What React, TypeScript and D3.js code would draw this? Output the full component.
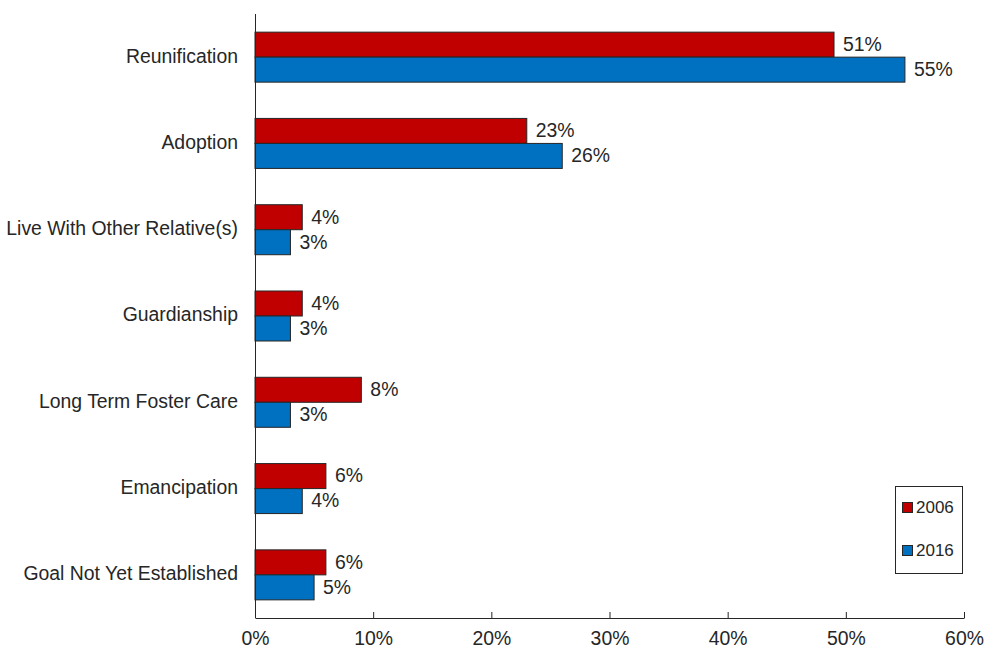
import React, { useEffect, useRef } from "react";
import * as d3 from "d3";

const categories = [
  "Reunification",
  "Adoption",
  "Live With Other Relative(s)",
  "Guardianship",
  "Long Term Foster Care",
  "Emancipation",
  "Goal Not Yet Established",
];
const series = ["2006", "2016"];
// bar lengths as drawn (percent)
const values2006 = [49, 23, 4, 4, 9, 6, 6];
const values2016 = [55, 26, 3, 3, 3, 4, 5];
// data labels as printed
const labels2006 = ["51%", "23%", "4%", "4%", "8%", "6%", "6%"];
const labels2016 = ["55%", "26%", "3%", "3%", "3%", "4%", "5%"];
const xTicks = [0, 10, 20, 30, 40, 50, 60];

const colors = ["#C00000", "#0070C0"];
const font = "Arial, 'Liberation Sans', sans-serif";
const textColor = "#262626";
const fs = 19.4;

export default function App() {
  const ref = useRef<SVGSVGElement>(null);

  useEffect(() => {
    const svg = d3.select(ref.current);
    svg.selectAll("*").remove();

    const left = 255;
    const right = 964;
    const top = 14;
    const bottom = 618;
    const barH = 25;

    const x = d3.scaleLinear().domain([0, 60]).range([left, right]);
    const y = d3.scaleBand().domain(categories).range([top, bottom]).padding(0);

    const rows = categories.map((c, i) => ({
      cat: c,
      vals: [values2006[i], values2016[i]],
      labs: [labels2006[i], labels2016[i]],
    }));

    // bars
    const g = svg.append("g");
    rows.forEach((r) => {
      const cy = (y(r.cat) as number) + y.bandwidth() / 2;
      r.vals.forEach((v, k) => {
        const by = cy - barH + k * barH;
        g.append("rect")
          .attr("x", x(0))
          .attr("y", by)
          .attr("width", x(v) - x(0))
          .attr("height", barH)
          .attr("fill", colors[k])
          .attr("stroke", "#262626")
          .attr("stroke-width", 1);
        g.append("text")
          .attr("x", x(v) + 9)
          .attr("y", by + barH / 2)
          .attr("dy", "0.33em")
          .attr("font-family", font)
          .attr("font-size", fs)
          .attr("fill", textColor)
          .text(r.labs[k]);
      });
    });

    // y axis
    const yAxis = svg
      .append("g")
      .attr("transform", `translate(${left},0)`)
      .call(d3.axisLeft(y).tickSize(0).tickPadding(17));
    yAxis.select(".domain").attr("stroke", "#262626").attr("d", `M0.5,${top}V${bottom}`);
    yAxis
      .selectAll(".tick text")
      .attr("dy", "0.28em")
      .attr("font-family", font)
      .attr("font-size", fs)
      .attr("fill", textColor);

    // x axis, ticks pointing inward
    const xAxis = svg
      .append("g")
      .attr("transform", `translate(0,${bottom})`)
      .call(
        d3
          .axisBottom(x)
          .tickValues(xTicks)
          .tickSizeInner(-6)
          .tickSizeOuter(0)
          .tickPadding(13)
          .tickFormat((d) => `${d}%`)
      );
    xAxis.select(".domain").attr("stroke", "#262626");
    xAxis.selectAll(".tick line").attr("stroke", "#262626");
    xAxis
      .selectAll(".tick text")
      .attr("font-family", font)
      .attr("font-size", fs)
      .attr("fill", textColor);

    // legend
    const lg = svg.append("g").attr("transform", "translate(895,486)");
    lg.append("rect")
      .attr("x", 0.5)
      .attr("y", 0.5)
      .attr("width", 67)
      .attr("height", 87)
      .attr("fill", "#fff")
      .attr("stroke", "#262626");
    series.forEach((s, k) => {
      const cy = 21.5 + k * 43;
      lg.append("rect")
        .attr("x", 7.5)
        .attr("y", cy - 5)
        .attr("width", 10)
        .attr("height", 10)
        .attr("fill", colors[k])
        .attr("stroke", "#262626");
      lg.append("text")
        .attr("x", 21)
        .attr("y", cy)
        .attr("dy", "0.35em")
        .attr("font-family", font)
        .attr("font-size", 17)
        .attr("fill", textColor)
        .text(s);
    });
  }, []);

  return (
    <svg
      ref={ref}
      width={984}
      height={650}
      style={{ position: "absolute", left: 0, top: 0, background: "#fff" }}
    />
  );
}
